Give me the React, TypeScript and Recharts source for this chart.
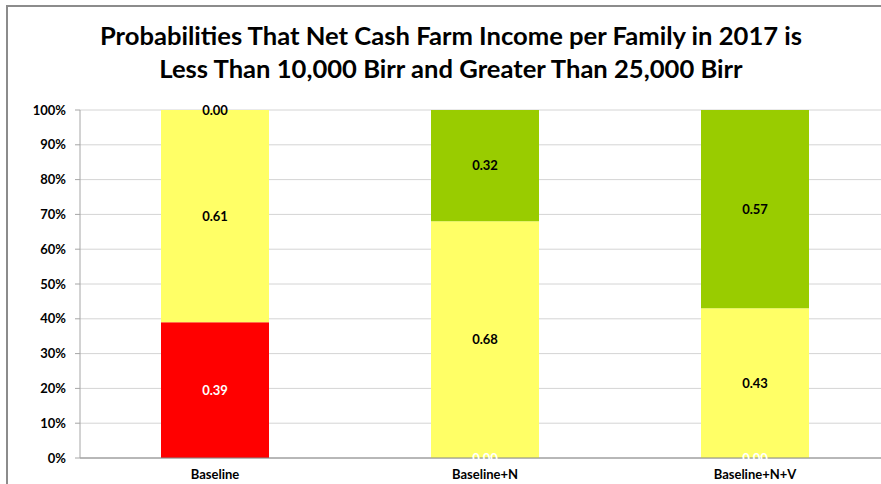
import React from "react";
import { BarChart, Bar, XAxis, YAxis, CartesianGrid, ReferenceDot } from "recharts";

const categories = ["Baseline", "Baseline+N", "Baseline+N+V"];
const below10k = [0.39, 0.0, 0.0];
const between = [0.61, 0.68, 0.43];
const above25k = [0.0, 0.32, 0.57];
const yTicks = [0, 0.1, 0.2, 0.3, 0.4, 0.5, 0.6, 0.7, 0.8, 0.9, 1];

const data = categories.map((name, i) => ({
  name,
  low: below10k[i],
  mid: between[i],
  high: above25k[i],
}));

const series = [
  { key: "low", values: below10k, fill: "#ff0000", text: "#ffffff" },
  { key: "mid", values: between, fill: "#ffff66", text: "#000000" },
  { key: "high", values: above25k, fill: "#99cc00", text: "#000000" },
];

// segment labels (incl. zero segments) at the middle of each stacked piece
const labels = categories.flatMap((name, i) => {
  let base = 0;
  return series.map((s) => {
    const v = s.values[i];
    const mid = base + v / 2;
    base += v;
    return { name, y: mid, value: v, color: s.text, id: `${s.key}-${i}` };
  });
});

const FONT = "Lato, 'Open Sans', sans-serif";

export default function App() {
  return (
    <div style={{ position: "fixed", left: 0, top: 0, width: 881, height: 484, overflow: "hidden", background: "#fff", fontFamily: FONT }}>
      <div
        style={{
          position: "absolute",
          left: 6,
          top: 5,
          width: 900,
          height: 500,
          borderLeft: "2px solid #8c8c8c",
          borderTop: "2px solid #8c8c8c",
        }}
      />
      <div
        style={{
          position: "absolute",
          left: 0,
          top: 19,
          width: 902,
          textAlign: "center",
          fontWeight: 700,
          fontSize: 25.6,
          lineHeight: "33px",
          color: "#000",
        }}
      >
        Probabilities That Net Cash Farm Income per Family in 2017 is
        <br />
        Less Than 10,000 Birr and Greater Than 25,000 Birr
      </div>
      <div style={{ position: "absolute", left: 0, top: 0 }}>
        <BarChart
          width={900}
          height={484}
          data={data}
          margin={{ top: 110, right: 10, left: 0, bottom: 0 }}
          barCategoryGap="30%"
        >
          <CartesianGrid stroke="#d4d4d4" vertical={false} />
          <XAxis
            dataKey="name"
            height={26}
            stroke="#868686"
            tickLine={false}
            tickMargin={6}
            tick={{ fontSize: 13, fontWeight: 700, fill: "#000", fontFamily: FONT }}
          />
          <YAxis
            width={80}
            domain={[0, 1]}
            ticks={yTicks}
            interval={0}
            stroke="#a6a6a6"
            tickSize={5}
            tickMargin={9}
            tickFormatter={(v: number) => `${Math.round(v * 100)}%`}
            tick={{ fontSize: 13, fontWeight: 700, fill: "#000", fontFamily: FONT }}
          />
          {series.map((s) => (
            <Bar key={s.key} dataKey={s.key} stackId="a" fill={s.fill} isAnimationActive={false} />
          ))}
          {labels.map((l) => (
            <ReferenceDot
              key={l.id}
              x={l.name}
              y={l.y}
              r={1}
              fill="none"
              stroke="none"
              ifOverflow="visible"
              label={{
                value: l.value.toFixed(2),
                position: "center",
                fill: l.color,
                fontSize: 13,
                fontWeight: 700,
                fontFamily: FONT,
              }}
            />
          ))}
        </BarChart>
      </div>
    </div>
  );
}
